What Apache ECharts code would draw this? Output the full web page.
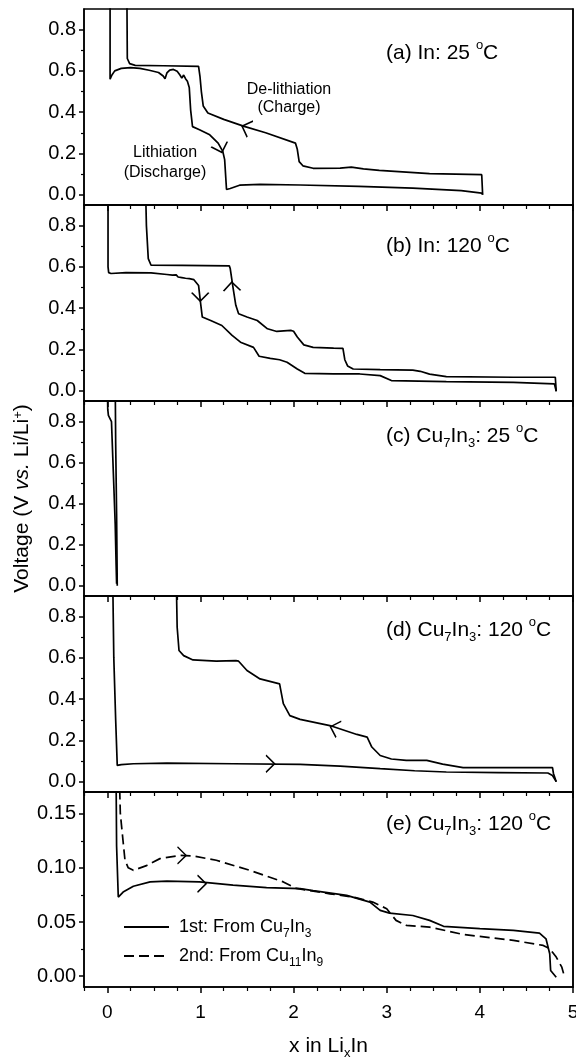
<!DOCTYPE html>
<html>
<head>
<meta charset="utf-8">
<script src="https://cdn.jsdelivr.net/npm/echarts@6/dist/echarts.min.js"></script>
<style>
  html, body { margin: 0; padding: 0; background: #fff; }
  #main { width: 576px; height: 1058px; }
</style>
</head>
<body>
<div id="main"></div>
<script>
// tick values
var xMajor = [0, 1, 2, 3, 4, 5];
var xMinor = [-0.25, 0.25, 0.5, 0.75, 1.25, 1.5, 1.75, 2.25, 2.5, 2.75, 3.25, 3.5, 3.75, 4.25, 4.5, 4.75];
var yMajor = [0, 0.2, 0.4, 0.6, 0.8];
var yMinor = [0.1, 0.3, 0.5, 0.7];
var yMajorE = [0, 0.05, 0.10, 0.15];
var yMinorE = [0.025, 0.075, 0.125];

// (a) In 25 C
var aDischarge = [[0.03,1.0],[0.03,0.56],[0.05,0.58],[0.08,0.60],[0.15,0.612],[0.25,0.616],[0.35,0.612],[0.45,0.603],
  [0.55,0.592],[0.60,0.575],[0.62,0.562],[0.64,0.59],[0.67,0.604],[0.71,0.607],[0.75,0.598],[0.78,0.58],[0.80,0.565],
  [0.82,0.58],[0.84,0.562],[0.86,0.55],[0.88,0.52],[0.895,0.41],[0.915,0.33],[0.99,0.315],[1.10,0.29],[1.19,0.25],
  [1.24,0.21],[1.26,0.17],[1.28,0.025],[1.32,0.03],[1.42,0.046],[1.64,0.05],[2.07,0.047],[2.7,0.04],[3.28,0.032],
  [3.8,0.02],[4.02,0.008],[4.03,0.0]];
var aCharge = [[4.03,0.0],[4.02,0.097],[3.46,0.102],[2.92,0.118],[2.75,0.125],[2.62,0.134],[2.50,0.129],[2.21,0.128],
  [2.10,0.14],[2.06,0.16],[2.04,0.22],[2.02,0.25],[2.0,0.258],[1.70,0.30],[1.47,0.331],[1.25,0.365],[1.08,0.396],
  [1.03,0.43],[1.01,0.5],[0.995,0.574],[0.98,0.622],[0.6,0.625],[0.3,0.627],[0.24,0.635],[0.215,0.66],[0.21,1.0]];
var aArrows = [[1.49, 0.325, 160], [1.216, 0.225, -72]];

// (b) In 120 C
var bDischarge = [[0.008,1.0],[0.008,0.6],[0.015,0.572],[0.04,0.568],[0.2,0.572],[0.47,0.571],[0.64,0.563],
  [0.70,0.560],[0.72,0.553],[0.74,0.561],[0.76,0.551],[0.78,0.559],[0.80,0.548],[0.82,0.557],[0.84,0.545],
  [0.86,0.554],[0.88,0.543],[0.90,0.550],[0.93,0.538],[0.98,0.51],[1.0,0.43],[1.02,0.357],[1.11,0.34],[1.23,0.316],
  [1.34,0.268],[1.43,0.235],[1.57,0.21],[1.63,0.167],[1.75,0.157],[1.85,0.15],[1.93,0.138],[2.04,0.105],[2.12,0.084],
  [2.43,0.081],[2.71,0.081],[2.93,0.073],[3.05,0.049],[3.64,0.044],[4.36,0.040],[4.80,0.033],[4.82,-0.003]];
var bCharge = [[4.82,-0.003],[4.81,0.065],[4.36,0.065],[3.64,0.068],[3.46,0.08],[3.36,0.094],[3.28,0.10],[2.93,0.102],
  [2.64,0.105],[2.58,0.12],[2.55,0.15],[2.53,0.205],[2.43,0.206],[2.21,0.21],[2.11,0.222],[2.04,0.26],[2.0,0.288],
  [1.97,0.292],[1.82,0.287],[1.72,0.30],[1.61,0.34],[1.50,0.357],[1.41,0.373],[1.38,0.414],[1.35,0.5],[1.32,0.592],
  [1.31,0.605],[0.8,0.607],[0.47,0.608],[0.44,0.64],[0.42,0.8],[0.41,1.0]];
var bArrows = [[0.998, 0.455, -90], [1.338, 0.505, 92]];

// (c) Cu7In3 25 C
var cDischarge = [[0.0,1.0],[0.005,0.86],[0.012,0.83],[0.045,0.80],[0.065,0.55],[0.085,0.30],[0.095,0.10],[0.10,0.01]];
var cCharge = [[0.107,0.0],[0.10,0.35],[0.09,0.7],[0.085,1.0]];

// (d) Cu7In3 120 C
var dDischarge = [[0.058,1.0],[0.07,0.6],[0.09,0.3],[0.107,0.079],[0.15,0.083],[0.28,0.087],[0.64,0.09],[1.35,0.087],
  [2.07,0.084],[2.5,0.075],[2.93,0.063],[3.3,0.053],[3.64,0.047],[4.2,0.044],[4.73,0.042],[4.78,0.03],[4.82,0.0]];
var dCharge = [[4.82,0.0],[4.79,0.04],[4.78,0.068],[4.3,0.068],[3.82,0.068],[3.6,0.085],[3.43,0.103],[3.21,0.103],
  [3.05,0.11],[2.93,0.127],[2.84,0.168],[2.79,0.216],[2.68,0.229],[2.39,0.272],[2.07,0.302],[1.96,0.32],[1.89,0.378],
  [1.86,0.45],[1.85,0.474],[1.83,0.477],[1.64,0.498],[1.50,0.539],[1.41,0.584],[1.38,0.587],[1.17,0.584],[0.92,0.59],
  [0.82,0.611],[0.77,0.636],[0.75,0.75],[0.74,1.0]];
var dArrows = [[1.75, 0.087, 0], [2.44, 0.26, 162]];

// (e) Cu7In3 120 C, first and second
var eFirst = [[0.093,0.2],[0.1,0.12],[0.118,0.073],[0.17,0.0776],[0.28,0.083],[0.46,0.087],[0.64,0.0878],[0.99,0.087],
  [1.35,0.084],[1.71,0.0817],[2.07,0.0808],[2.21,0.079],[2.57,0.0746],[2.82,0.0684],[2.93,0.0607],[3.03,0.0582],
  [3.28,0.056],[3.46,0.0515],[3.61,0.046],[4.0,0.0438],[4.36,0.0422],[4.64,0.0397],[4.71,0.0345],[4.75,0.0207],
  [4.76,0.0053],[4.82,-0.001]];
var eSecond = [[0.125,0.2],[0.14,0.15],[0.19,0.107],[0.225,0.100],[0.28,0.0977],[0.42,0.102],[0.565,0.1085],[0.78,0.1115],
  [0.92,0.111],[1.17,0.107],[1.53,0.0977],[1.89,0.087],[2.03,0.081],[2.39,0.076],[2.64,0.073],[2.85,0.0684],[3.0,0.0623],
  [3.1,0.0515],[3.21,0.0469],[3.46,0.0453],[3.82,0.0385],[4.36,0.033],[4.68,0.0284],[4.75,0.0253],[4.82,0.0176],
  [4.88,0.0083],[4.91,-0.001]];
var eFirstArrows = [[1.015, 0.0854, 0]];
var eSecondArrows = [[0.80, 0.1115, 0]];

var nameFirst = '1st: From Cu7In3';
var nameSecond = '2nd: From Cu11In9';

var FONT = 'Liberation Sans, Arial, sans-serif';
var ARROW = 'path://M0,0L10,7L0,14';

// sub/superscripts: main text gets a tall line box, small tokens sit at its top or bottom
var rich = {
  sup: { fontSize: 13, fontFamily: FONT, color: '#000', verticalAlign: 'top', lineHeight: 12 },
  sub: { fontSize: 13, fontFamily: FONT, color: '#000', verticalAlign: 'bottom' },
  it: { fontSize: 21, fontFamily: FONT, color: '#000', fontStyle: 'italic' }
};

// panel boxes (pixels)
var panels = [
  { top: 9, height: 196 },
  { top: 205, height: 196 },
  { top: 401, height: 195 },
  { top: 596, height: 196 },
  { top: 792, height: 195 }
];

var grids = [], xAxes = [], yAxes = [];
panels.forEach(function(p, i) {
  var last = i === 4;
  var yMin = last ? -0.01 : -0.05, yMax = last ? 0.17 : 0.9;
  grids.push({ left: 84, right: 3, top: p.top, height: p.height, show: true,
    borderColor: '#000', borderWidth: 1.5, containLabel: false, outerBoundsMode: 'none' });
  xAxes.push({
    type: 'value', gridIndex: i, min: -0.25, max: 5, position: 'bottom',
    axisLine: { show: true, onZero: false, lineStyle: { color: '#000', width: 1.5 } },
    axisTick: { show: true, customValues: xMajor, length: 6, lineStyle: { color: '#000', width: 1.5 } },
    axisLabel: { show: last, customValues: xMajor, margin: 16, fontSize: 19, fontFamily: FONT, color: '#000' },
    splitLine: { show: false },
    name: last ? 'x in Li{sub|x}In' : '',
    nameLocation: 'middle', nameGap: 45,
    nameTextStyle: { fontSize: 21, lineHeight: 28, fontFamily: FONT, color: '#000', rich: rich }
  });
  xAxes.push({
    type: 'value', gridIndex: i, min: -0.25, max: 5, position: 'bottom',
    axisLine: { show: false, onZero: false },
    axisTick: { show: true, customValues: xMinor, length: 4, lineStyle: { color: '#000', width: 1.2 } },
    axisLabel: { show: false }, splitLine: { show: false }
  });
  var major = last ? yMajorE : yMajor;
  var minor = last ? yMinorE : yMinor;
  yAxes.push({
    type: 'value', gridIndex: i, min: yMin, max: yMax, position: 'left',
    axisLine: { show: true, onZero: false, lineStyle: { color: '#000', width: 1.5 } },
    axisTick: { show: true, customValues: major, length: 5, lineStyle: { color: '#000', width: 1.5 } },
    axisLabel: { customValues: major, margin: 8, fontSize: 20, fontFamily: FONT, color: '#000',
      formatter: function(v) { return v.toFixed(last ? 2 : 1); } },
    splitLine: { show: false },
    name: i === 2 ? 'Voltage (V {it|vs.} Li/Li{sup|+})' : '',
    nameLocation: 'middle', nameRotate: 90, nameGap: 51,
    nameTextStyle: { fontSize: 21, fontFamily: FONT, color: '#000', rich: rich }
  });
  yAxes.push({
    type: 'value', gridIndex: i, min: yMin, max: yMax, position: 'left',
    axisLine: { show: false, onZero: false },
    axisTick: { show: true, customValues: minor, length: 3, lineStyle: { color: '#000', width: 1.2 } },
    axisLabel: { show: false }, splitLine: { show: false }
  });
  // right edge of the frame
  yAxes.push({
    type: 'value', gridIndex: i, min: yMin, max: yMax, position: 'right',
    axisLine: { show: true, onZero: false, lineStyle: { color: '#000', width: 1.5 } },
    axisTick: { show: false }, axisLabel: { show: false }, splitLine: { show: false }
  });
});

function curve(name, data, panel, dashed, arrows) {
  var s = {
    name: name, type: 'line', data: data, xAxisIndex: panel * 2, yAxisIndex: panel * 3,
    symbol: 'none', showSymbol: false, clip: true, animation: false, silent: true,
    lineStyle: { color: '#000', width: 1.7, type: dashed ? [10, 5] : 'solid' },
    itemStyle: { color: '#000' }
  };
  if (arrows) {
    s.markPoint = {
      symbol: ARROW, symbolSize: [12, 17], symbolKeepAspect: true, silent: true, animation: false,
      itemStyle: { color: 'none', borderColor: '#000', borderWidth: 1.5 },
      label: { show: false },
      data: arrows.map(function(a) { return { coord: [a[0], a[1]], symbolRotate: a[2] }; })
    };
  }
  return s;
}

var series = [
  curve('a-dis', aDischarge, 0, false, null),
  curve('a-chg', aCharge, 0, false, aArrows),
  curve('b-dis', bDischarge, 1, false, null),
  curve('b-chg', bCharge, 1, false, bArrows),
  curve('c-dis', cDischarge, 2, false, null),
  curve('c-chg', cCharge, 2, false, null),
  curve('d-dis', dDischarge, 3, false, null),
  curve('d-chg', dCharge, 3, false, dArrows),
  curve(nameFirst, eFirst, 4, false, eFirstArrows),
  curve(nameSecond, eSecond, 4, true, eSecondArrows)
];

var labelStyle = { fontSize: 21, lineHeight: 28, fontFamily: FONT, color: '#000', fontWeight: 'normal', rich: rich };
var titles = [
  { text: '(a) In: 25 {sup|o}C', left: 386, top: 39 },
  { text: '(b) In: 120 {sup|o}C', left: 386, top: 232 },
  { text: '(c) Cu{sub|7}In{sub|3}: 25 {sup|o}C', left: 386, top: 422 },
  { text: '(d) Cu{sub|7}In{sub|3}: 120 {sup|o}C', left: 386, top: 616 },
  { text: '(e) Cu{sub|7}In{sub|3}: 120 {sup|o}C', left: 386, top: 810 }
].map(function(t) { t.padding = 0; t.textStyle = labelStyle; return t; });

var legendRich = {
  sub: { fontSize: 12, fontFamily: FONT, color: '#000', verticalAlign: 'bottom' }
};

var option = {
  animation: false,
  backgroundColor: '#fff',
  title: titles,
  grid: grids,
  xAxis: xAxes,
  yAxis: yAxes,
  legend: {
    data: [nameFirst, nameSecond],
    orient: 'vertical', left: 123, top: 914, padding: 0,
    itemWidth: 45, itemHeight: 10, itemGap: 3,
    selectedMode: false,
    itemStyle: { opacity: 0 },
    formatter: function(n) {
      return n === nameFirst ? '1st: From Cu{sub|7}In{sub|3}' : '2nd: From Cu{sub|11}In{sub|9}';
    },
    textStyle: { fontSize: 18, lineHeight: 26, fontFamily: FONT, color: '#000', padding: [0, 0, 0, 5], rich: legendRich }
  },
  graphic: [
    { type: 'text', x: 289, y: 99, style: { text: 'De-lithiation\n(Charge)', fill: '#000',
      font: '16px ' + FONT, textAlign: 'center', textVerticalAlign: 'middle', lineHeight: 18 } },
    { type: 'text', x: 165, y: 163, style: { text: 'Lithiation\n(Discharge)', fill: '#000',
      font: '16px ' + FONT, textAlign: 'center', textVerticalAlign: 'middle', lineHeight: 20 } }
  ],
  series: series
};

var chart = echarts.init(document.getElementById('main'), null, { renderer: 'canvas' });
chart.setOption(option);
</script>
</body>
</html>
